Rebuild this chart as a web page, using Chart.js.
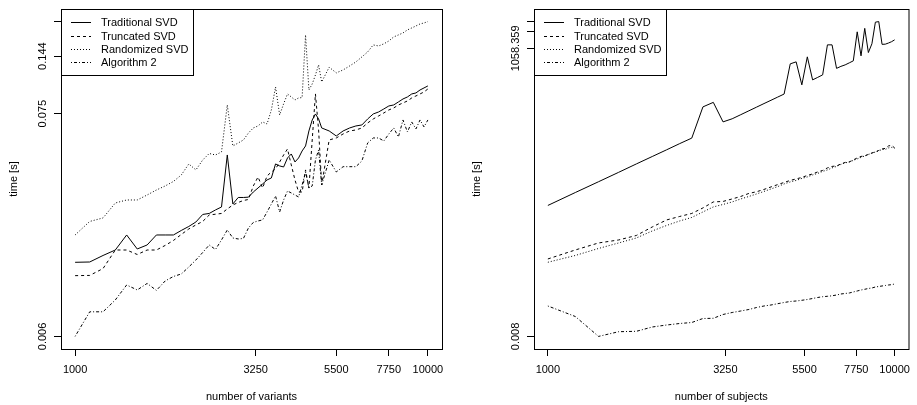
<!DOCTYPE html>
<html>
<head>
<meta charset="utf-8">
<script src="https://cdn.jsdelivr.net/npm/chart.js@4.4.1/dist/chart.umd.min.js"></script>
<style>
  html, body { margin: 0; padding: 0; background: #fff; }
  #wrap { position: relative; width: 917px; height: 405px; }
  .panel { position: absolute; top: 0; height: 405px; }
  #left { left: 0; width: 458px; }
  #right { left: 458px; width: 459px; }
</style>
</head>
<body>
<div id="wrap">
  <div class="panel" id="left"><canvas id="c1"></canvas></div>
  <div class="panel" id="right"><canvas id="c2"></canvas></div>
</div>
<script>
// ---- data (times in seconds) ----
const seriesNames = ['Traditional SVD', 'Truncated SVD', 'Randomized SVD', 'Algorithm 2'];
const xTicks = [1000, 3250, 5500, 7750, 10000];

// left panel: number of variants
const variants = [1000,1100,1200,1300,1400,1500,1600,1700,1800,1900,2000,2100,2200,2300,2400,2500,2600,2700,2800,2900,
  3000,3100,3200,3300,3400,3500,3600,3700,3800,3900,4000,4100,4200,4300,4400,4500,4600,4700,4800,4900,
  5000,5250,5500,5750,6000,6250,6500,6750,7000,7250,7500,7750,8000,8250,8500,8750,9000,9250,9500,9750,10000];
const varTraditional = [0.01390,0.01395,0.01502,0.01598,0.01895,0.01617,0.01692,0.01895,0.01895,0.01895,0.01995,0.02087,0.02196,0.02392,0.02419,0.02517,0.02603,0.04695,0.02693,0.02899,
  0.02899,0.0291,0.03085,0.03229,0.03379,0.03536,0.03617,0.04240,0.04145,0.04098,0.04538,0.04748,0.04336,0.04538,0.04912,0.05199,0.06163,0.06982,0.07474,0.07062,
  0.06377,0.06163,0.05823,0.06163,0.06377,0.06523,0.06597,0.07062,0.07474,0.07645,0.07909,0.08184,0.08277,0.08563,0.0886,0.09063,0.09377,0.09484,0.0981,0.1004,0.1027];
const varTruncated = [0.01195,0.01198,0.01295,0.01598,0.01598,0.01519,0.01598,0.01598,0.01683,0.01781,0.01906,0.02029,0.02123,0.02209,0.02378,0.02398,0.02419,0.02545,0.02663,0.02740,
  0.02802,0.02834,0.03304,0.03658,0.03229,0.03700,0.03872,0.04006,0.04336,0.04695,0.05025,0.04192,0.03536,0.03085,0.03085,0.03962,0.03229,0.05565,0.09377,0.06234,
  0.03341,0.05565,0.05693,0.05957,0.06163,0.06234,0.06377,0.06748,0.07062,0.07306,0.07559,0.07821,0.08001,0.08277,0.08467,0.08661,0.08961,0.09167,0.09377,0.09591,0.09924];
const varRandomized = [0.01895,0.02209,0.02299,0.02724,0.02818,0.02818,0.02982,0.03156,0.03304,0.03477,0.03742,0.04240,0.03962,0.04436,0.04775,0.04695,0.04857,0.08277,0.05199,0.05379,
  0.05565,0.06025,0.06377,0.06523,0.06825,0.06672,0.07821,0.1015,0.07389,0.08383,0.09377,0.09063,0.0876,0.0896,0.0900,0.1831,0.0981,0.1050,0.1163,0.1303,
  0.1074,0.127,0.1191,0.1231,0.1288,0.1348,0.1427,0.1510,0.1635,0.1616,0.1655,0.1710,0.1790,0.1831,0.1873,0.1938,0.1982,0.2027,0.2074,0.2097,0.213];
const varAlgorithm2 = [0.006,0.00793,0.00793,0.00907,0.01075,0.01016,0.01094,0.01011,0.01125,0.01184,0.01218,0.01318,0.01427,0.01554,0.01692,0.01608,0.01791,0.02006,0.01832,0.01811,
  0.01822,0.02052,0.02185,0.02222,0.02247,0.02460,0.02693,0.02949,0.02460,0.02818,0.03121,0.03051,0.02982,0.02916,0.03341,0.03872,0.03229,0.03304,0.04436,0.04970,
  0.03341,0.04436,0.03872,0.04111,0.04111,0.04111,0.04386,0.05379,0.05693,0.05693,0.05502,0.05957,0.06377,0.05758,0.06982,0.06094,0.06825,0.06305,0.06982,0.06449,0.06982];
const varYTicks = [0.006, 0.075, 0.144, 0.213];
const varYLabels = ['0.006', '0.075', '0.144', ''];

// right panel: number of subjects
const subjects = [1000,1200,1400,1600,1800,2000,2200,2400,2600,2800,3000,3200,3400,3600,3800,4000,4200,4400,4600,4800,
  5000,5200,5400,5600,5800,6000,6200,6400,6600,6800,7000,7200,7400,7600,7800,8000,8200,8400,8600,8800,9000,9200,9400,9600,9800,10000];
const subTraditional = [1.707,2.897,4.508,6.627,9.346,12.66,16.66,21.48,26.90,96.60,116.2,52.25,59.32,70.18,82.34,95.81,110.6,126.6,144.3,163.3,
  562.5,610.5,237.9,749.2,292.0,323.5,358.3,1225,1225,467.7,507.6,539.8,586.0,636.0,2087,780.5,2408,893.8,1280,3100,3175.06,1250,1260,1320,1395,1503];
const subTruncated = [0.1907,0.2757,0.3673,0.4153,0.4994,0.7073,0.9422,1.087,1.230,1.541,1.970,2.011,2.227,2.467,2.792,2.993,3.289,3.643,4.003,4.381,
  4.754,5.056,5.376,5.835,6.206,6.736,7.163,7.935,8.437,8.612,9.346,9.939,10.14,11.01,11.95,12.71,12.97,13.80,14.67,15.29,16.25,17.28,17.64,19.54,19.95,18.01];
const subRandomized = [0.1666,0.2201,0.2932,0.3673,0.4507,0.6004,0.7520,0.9044,1.044,1.308,1.606,1.778,1.970,2.227,2.467,2.735,3.030,3.357,3.688,4.120,
  4.472,4.754,5.160,5.487,5.956,6.335,6.876,7.311,7.935,8.437,9.157,9.737,10.14,10.79,11.47,12.20,12.97,13.80,14.38,15.29,15.92,16.93,16.93,18.01,18.38,17.78];
const subAlgorithm2 = [0.02780,0.01807,0.008,0.00970,0.00986,0.01176,0.01276,0.01357,0.01414,0.01665,0.01679,0.01963,0.02130,0.02265,0.02409,0.02614,0.02780,0.02896,0.03054,0.03208,
  0.03343,0.03411,0.03511,0.03627,0.03779,0.03937,0.04068,0.04135,0.04221,0.04361,0.04545,0.04639,0.04735,0.04933,0.05139,0.05354,0.05510,0.05693,0.05811,0.06054,
  0.06178,0.06307,0.06437,0.06570,0.06652,0.06845];
const subYTicks = [0.008, 1058.359, 2116.71, 3175.06];
const subYLabels = ['0.008', '1058.359', '', ''];

// ---- style ----
const FONT_FAMILY = '"Liberation Sans", Arial, Helvetica, sans-serif';
const FONT = { family: FONT_FAMILY, size: 11 };
const dashes = [[], [3, 3], [1, 2], [1, 2, 3, 2]];

// R pads each axis range by 4% (here in log space)
function paddedRange(lo, hi) {
  const ext = (Math.log10(hi) - Math.log10(lo)) * 0.04;
  return { min: lo / Math.pow(10, ext), max: hi * Math.pow(10, ext) };
}

// rotated y labels, box and legend like base R graphics
const rStyle = {
  id: 'rStyle',
  afterDatasetsDraw(chart, args, opts) {
    const { ctx, chartArea: a } = chart;
    const yScale = chart.scales.y;
    ctx.save();
    ctx.font = '11px ' + FONT_FAMILY;
    ctx.fillStyle = '#000';
    ctx.textAlign = 'center';
    ctx.textBaseline = 'alphabetic';
    opts.yTicks.forEach((v, i) => {
      const label = opts.yLabels[i];
      if (!label) return;
      ctx.save();
      ctx.translate(a.left - 15, yScale.getPixelForValue(v));
      ctx.rotate(-Math.PI / 2);
      ctx.fillText(label, 0, 0);
      ctx.restore();
    });

    ctx.strokeStyle = '#000';
    ctx.lineWidth = 1;
    ctx.strokeRect(a.left + 0.5, a.top + 0.5, a.right - a.left, a.bottom - a.top);

    // legend in the top-left corner
    ctx.fillStyle = '#fff';
    ctx.fillRect(a.left + 0.5, a.top + 0.5, 132, 66);
    ctx.strokeRect(a.left + 0.5, a.top + 0.5, 132, 66);
    ctx.textAlign = 'left';
    ctx.textBaseline = 'middle';
    chart.data.datasets.forEach((ds, i) => {
      const ry = Math.round(a.top + 13.3 + i * 13.2) + 0.5;
      ctx.setLineDash(ds.borderDash);
      ctx.beginPath();
      ctx.moveTo(a.left + 10, ry);
      ctx.lineTo(a.left + 30, ry);
      ctx.stroke();
      ctx.setLineDash([]);
      ctx.fillStyle = '#000';
      ctx.fillText(ds.label, a.left + 40, ry);
    });
    ctx.restore();
  }
};

function makeChart(canvas, xs, ys, yTicks, yLabels, xTitle, yAxisWidth, yTitlePad, padRight) {
  const xr = paddedRange(xTicks[0], xTicks[xTicks.length - 1]);
  const yr = paddedRange(yTicks[0], yTicks[yTicks.length - 1]);
  const datasets = seriesNames.map((name, i) => ({
    label: name,
    data: xs.map((x, j) => ({ x: x, y: ys[i][j] })),
    borderColor: '#000',
    borderWidth: 1,
    borderDash: dashes[i],
    pointRadius: 0,
    tension: 0,
    fill: false
  }));

  return new Chart(canvas, {
    type: 'line',
    data: { datasets: datasets },
    plugins: [rStyle],
    options: {
      responsive: true,
      maintainAspectRatio: false,
      animation: false,
      devicePixelRatio: 1,
      layout: { padding: { top: 9, right: padRight, bottom: 0, left: 0 } },
      plugins: {
        legend: { display: false },
        tooltip: { enabled: false },
        rStyle: { yTicks: yTicks, yLabels: yLabels }
      },
      scales: {
        x: {
          type: 'logarithmic',
          min: xr.min,
          max: xr.max,
          afterBuildTicks: s => { s.ticks = xTicks.map(v => ({ value: v })); },
          afterFit: s => { s.height = 56; },
          ticks: {
            autoSkip: false, maxRotation: 0, minRotation: 0, color: '#000', font: FONT, padding: 7,
            callback: v => String(v)
          },
          grid: { drawOnChartArea: false, tickLength: 7, color: '#000' },
          border: { display: false },
          title: { display: true, text: xTitle, color: '#000', font: FONT, padding: { top: 0, bottom: 1 } }
        },
        y: {
          type: 'logarithmic',
          min: yr.min,
          max: yr.max,
          afterBuildTicks: s => { s.ticks = yTicks.map(v => ({ value: v })); },
          afterFit: s => { s.width = yAxisWidth; },
          ticks: { display: false },
          grid: { drawOnChartArea: false, tickLength: 7, color: '#000' },
          border: { display: false },
          title: { display: true, text: 'time [s]', color: '#000', font: FONT, padding: { top: yTitlePad, bottom: 0 } }
        }
      }
    }
  });
}

makeChart(document.getElementById('c1'), variants,
  [varTraditional, varTruncated, varRandomized, varAlgorithm2],
  varYTicks, varYLabels, 'number of variants', 61, 7, 16);

makeChart(document.getElementById('c2'), subjects,
  [subTraditional, subTruncated, subRandomized, subAlgorithm2],
  subYTicks, subYLabels, 'number of subjects', 76, 12, 2);
</script>
</body>
</html>
